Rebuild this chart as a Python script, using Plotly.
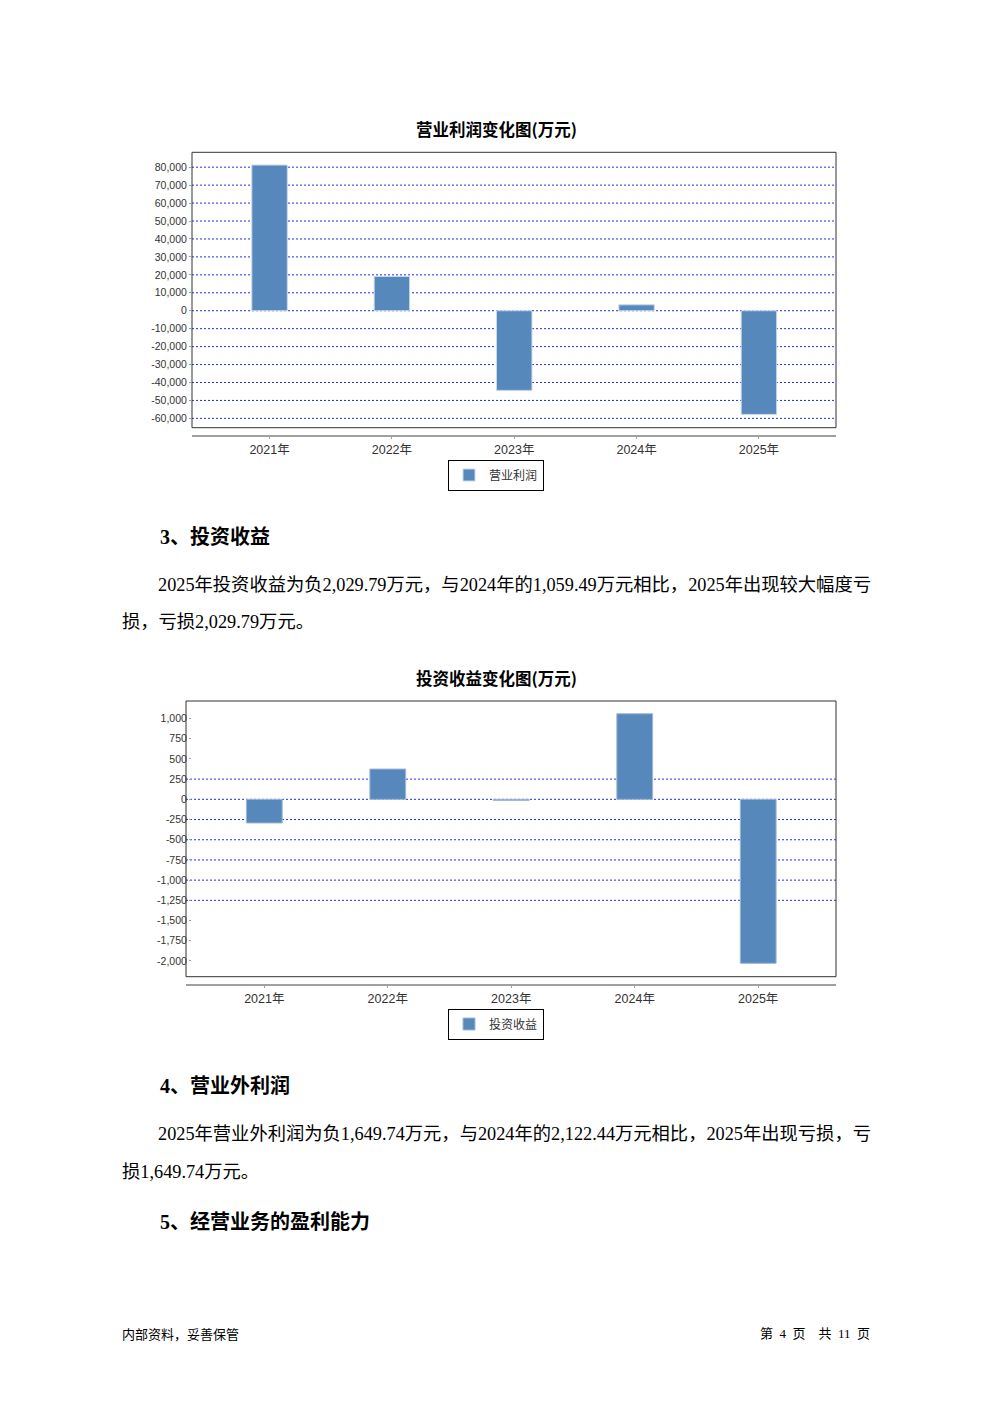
import plotly.graph_objects as go

# page is drawn with an 8px body margin, so the figure is offset by OFF
OFF = 8
W, H = 992 - 2 * OFF, 1403 - 2 * OFF

# ---------------- data ----------------
years = ["2021年", "2022年", "2023年", "2024年", "2025年"]
op_profit = [81200, 19100, -44400, 3300, -57800]            # 营业利润 (万元)
inv_income = [-293, 375, -15, 1059.49, -2029.79]             # 投资收益 (万元)

op_ticks = [80000, 70000, 60000, 50000, 40000, 30000, 20000, 10000, 0,
            -10000, -20000, -30000, -40000, -50000, -60000]
op_grid = op_ticks
inv_ticks = [1000, 750, 500, 250, 0, -250, -500, -750, -1000, -1250,
             -1500, -1750, -2000]
inv_grid = [250, 0, -250, -500, -750, -1000, -1250]

chart1_title = "营业利润变化图(万元)"
chart2_title = "投资收益变化图(万元)"
series1_name = "营业利润"
series2_name = "投资收益"

heading3 = "3、投资收益"
para3 = ["2025年投资收益为负2,029.79万元，与2024年的1,059.49万元相比，2025年出现较大幅度亏",
         "损，亏损2,029.79万元。"]
heading4 = "4、营业外利润"
para4 = ["2025年营业外利润为负1,649.74万元，与2024年的2,122.44万元相比，2025年出现亏损，亏",
         "损1,649.74万元。"]
heading5 = "5、经营业务的盈利能力"
footer_left = "内部资料，妥善保管"
footer_right = "第  4  页    共  11  页"

# ---------------- helpers ----------------
def px(x):
    return (x - OFF) / W

def py(y):
    return 1 - (y - OFF) / H

def fmt(v):
    return f"{v:,}"

BAR = "#5688BC"
GRID = "#2A2AF5"
SANS = "Liberation Sans, Noto Sans CJK SC, sans-serif"
SERIF = "Liberation Serif, Noto Sans CJK SC, serif"

fig = go.Figure()

fig.add_trace(go.Bar(x=years, y=op_profit, name=series1_name, width=0.29,
                     marker=dict(color=BAR, line=dict(color="#C9D9EA", width=1)),
                     xaxis="x", yaxis="y", legend="legend", showlegend=True))
fig.add_trace(go.Bar(x=years, y=inv_income, name=series2_name, width=0.29,
                     marker=dict(color=BAR, line=dict(color="#9FB9D6", width=1)),
                     xaxis="x2", yaxis="y2", legend="legend2", showlegend=True))

# chart frames (page pixel coordinates)
c1 = dict(l=192, r=836, t=152.3, b=427.7, axis=436)
c2 = dict(l=186, r=836, t=701, b=976.7, axis=985)

def xaxis_cfg(c):
    return dict(domain=[px(c["l"]), px(c["r"])], anchor="free", position=py(c["axis"]),
                type="category", range=[-0.634, 4.63], showgrid=False, zeroline=False,
                showline=True, linecolor="#A0A0A0", linewidth=2,
                ticks="outside", ticklen=2, tickcolor="#A0A0A0",
                tickfont=dict(family=SANS, size=12.5, color="#333333"), fixedrange=True)

def yaxis_cfg(c, ticks, rng):
    return dict(domain=[py(c["b"]), py(c["t"])], range=rng, showgrid=False, zeroline=False,
                showline=False, tickvals=ticks, ticktext=[fmt(v) for v in ticks],
                ticks="outside", ticklen=2, tickcolor="#A0A0A0",
                tickfont=dict(family=SANS, size=10.5, color="#333333"), fixedrange=True)

shapes = []
for v in op_grid:
    shapes.append(dict(type="line", xref="x domain", yref="y", x0=0, x1=1, y0=v, y1=v,
                       line=dict(color=GRID, width=1, dash="2px,2px"), layer="below"))
for v in inv_grid:
    shapes.append(dict(type="line", xref="x2 domain", yref="y2", x0=0, x1=1, y0=v, y1=v,
                       line=dict(color=GRID, width=1, dash="2px,2px"), layer="below"))
shapes.append(dict(type="rect", xref="x domain", yref="y domain", x0=0, x1=1, y0=0, y1=1,
                   line=dict(color="#333333", width=1), layer="above"))
shapes.append(dict(type="rect", xref="x2 domain", yref="y2 domain", x0=0, x1=1, y0=0, y1=1,
                   line=dict(color="#333333", width=1), layer="above"))

ann = []
def text(t, x, y, size, bold=False, family=SERIF, xanchor="left", color="#000000"):
    ann.append(dict(text=f"<b>{t}</b>" if bold else t, x=px(x), y=py(y), xref="paper", yref="paper",
                    xanchor=xanchor, yanchor="middle", showarrow=False,
                    font=dict(family=family, size=size, color=color)))

text(chart1_title, 496, 129, 16.5, bold=True, family="Noto Sans CJK SC", xanchor="center")
text(chart2_title, 496, 678, 16.5, bold=True, family="Noto Sans CJK SC", xanchor="center")
text(heading3, 158, 537, 20, bold=True)
text(para3[0], 156, 585, 18.3)
text(para3[1], 120, 622, 18.3)
text(heading4, 158, 1085, 20, bold=True)
text(para4[0], 156, 1134, 18.3)
text(para4[1], 120, 1172, 18.3)
text(heading5, 158, 1222, 20, bold=True)
text(footer_left, 120, 1333, 13, family="Noto Sans CJK SC")
text(footer_right, 872, 1333, 13, family=SERIF, xanchor="right")

legend_common = dict(xanchor="center", yanchor="middle", bgcolor="#FFFFFF",
                     bordercolor="#000000", borderwidth=1, itemwidth=30,
                     font=dict(family="Noto Sans CJK SC", size=12, color="#333333"),
                     orientation="h", itemclick=False, itemdoubleclick=False)

fig.update_layout(
    width=W, height=H, autosize=False,
    margin=dict(l=0, r=0, t=0, b=0),
    paper_bgcolor="#FFFFFF", plot_bgcolor="#FFFFFF",
    barmode="overlay",
    xaxis=xaxis_cfg(c1), yaxis=yaxis_cfg(c1, op_ticks, [-65200, 88300]),
    xaxis2=xaxis_cfg(c2), yaxis2=yaxis_cfg(c2, inv_ticks, [-2195, 1217]),
    legend=dict(x=px(496), y=py(475), **legend_common),
    legend2=dict(x=px(496), y=py(1024), **legend_common),
    shapes=shapes, annotations=ann,
)

fig.write_html("out.html")
